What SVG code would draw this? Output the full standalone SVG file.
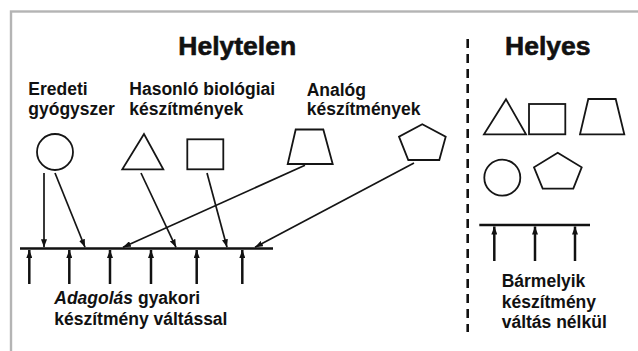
<svg xmlns="http://www.w3.org/2000/svg" width="638" height="351" viewBox="0 0 638 351">
  <style>
    .frame { fill: none; stroke: #b4b4b4; stroke-width: 2.4; }
    .shape { fill: #fff; stroke: #151515; stroke-width: 1.8; }
    .txt { font-family: "Liberation Sans", Arial, sans-serif; font-weight: bold; fill: #111; }
    .title { font-size: 26.5px; stroke: #111; stroke-width: 0.6; }
    .label { font-size: 17.5px; }
    .thin { stroke: #151515; stroke-width: 1.7; fill: none; }
    .thick { stroke: #111; stroke-width: 2.5; fill: none; }
    .bar { stroke: #111; stroke-width: 2.3; fill: none; }
    .divider { stroke: #111; stroke-width: 2.6; stroke-dasharray: 9 6; fill: none; }
  </style>
  <defs>
    <marker id="head" markerUnits="userSpaceOnUse" markerWidth="8" markerHeight="6" refX="8" refY="3" orient="auto">
      <path d="M0,0 L8,3 L0,6 z" fill="#111"/>
    </marker>
  </defs>

  <rect width="638" height="351" fill="#fff"/>
  <rect class="frame" x="11" y="11.5" width="640" height="350"/>

  <!-- section titles -->
  <g id="title-helytelen">
    <text class="txt title" x="178.3" y="55">Helytelen</text>
  </g>
  <g id="title-helyes">
    <text class="txt title" x="505" y="55">Helyes</text>
  </g>

  <!-- category labels -->
  <g id="label-eredeti">
    <text class="txt label" x="28.3" y="95">Eredeti</text>
    <text class="txt label" x="28.3" y="115">gyógyszer</text>
  </g>
  <g id="label-hasonlo">
    <text class="txt label" x="129.3" y="95">Hasonló biológiai</text>
    <text class="txt label" x="129.3" y="115">készítmények</text>
  </g>
  <g id="label-analog">
    <text class="txt label" x="306.7" y="95.5">Analóg</text>
    <text class="txt label" x="306.7" y="115">készítmények</text>
  </g>

  <!-- left-hand products -->
  <g id="left-circle"><circle class="shape" cx="55" cy="152" r="18"/></g>
  <g id="left-triangle"><polygon class="shape" points="144,134 122.3,169.3 163.3,169.3"/></g>
  <g id="left-square"><rect class="shape" x="187.3" y="139.3" width="36" height="30"/></g>
  <g id="left-trapezoid"><polygon class="shape" points="295.7,129.5 323.3,129.5 332.7,164 287.7,164"/></g>
  <g id="left-pentagon"><polygon class="shape" points="422.3,124.3 445.7,136.7 439.3,160 408.3,160 399,136.7"/></g>

  <!-- dosing timeline with frequent switching -->
  <g id="left-timeline">
    <line class="bar" x1="20" y1="248.5" x2="273" y2="248.5"/>
  </g>

  <!-- right-hand products -->
  <g id="right-triangle"><polygon class="shape" points="506,99.3 484,134.3 526,134.3"/></g>
  <g id="right-square"><rect class="shape" x="529" y="104" width="36.3" height="30.3"/></g>
  <g id="right-trapezoid"><polygon class="shape" points="588.3,99 615.7,99 624.3,134.3 580,134.3"/></g>
  <g id="right-circle"><circle class="shape" cx="502.3" cy="177.7" r="18"/></g>
  <g id="right-pentagon"><polygon class="shape" points="557.7,152.7 581.7,167.3 573.3,188.7 542.7,188.7 534,167.3"/></g>

  <!-- dosing timeline without switching -->
  <g id="right-timeline">
    <line class="bar" x1="479.3" y1="225" x2="590" y2="225"/>
  </g>

  <!-- divider between the two halves -->
  <g id="divider">
    <line class="divider" x1="467.7" y1="39" x2="467.7" y2="332"/>
  </g>

  <!-- connectors -->
  <g id="connectors">
    <!-- products feeding the left timeline -->
    <line class="thin" x1="44" y1="173" x2="44" y2="247.3" marker-end="url(#head)"/>
    <line class="thin" x1="55" y1="173" x2="85" y2="247.3" marker-end="url(#head)"/>
    <line class="thin" x1="141" y1="173" x2="176" y2="247.3" marker-end="url(#head)"/>
    <line class="thin" x1="207" y1="173" x2="227" y2="247.3" marker-end="url(#head)"/>
    <line class="thin" x1="305" y1="165.3" x2="123" y2="247.3" marker-end="url(#head)"/>
    <line class="thin" x1="414" y1="163" x2="255" y2="247.3" marker-end="url(#head)"/>
    <!-- administrations, left -->
    <line class="thick" x1="29.3" y1="284" x2="29.3" y2="250" marker-end="url(#head)"/>
    <line class="thick" x1="69.3" y1="284" x2="69.3" y2="250" marker-end="url(#head)"/>
    <line class="thick" x1="110" y1="284" x2="110" y2="250" marker-end="url(#head)"/>
    <line class="thick" x1="151" y1="284" x2="151" y2="250" marker-end="url(#head)"/>
    <line class="thick" x1="196.7" y1="284" x2="196.7" y2="250" marker-end="url(#head)"/>
    <line class="thick" x1="242.3" y1="284" x2="242.3" y2="250" marker-end="url(#head)"/>
    <!-- administrations, right -->
    <line class="thick" x1="494.3" y1="261" x2="494.3" y2="226.5" marker-end="url(#head)"/>
    <line class="thick" x1="535" y1="261" x2="535" y2="226.5" marker-end="url(#head)"/>
    <line class="thick" x1="575" y1="261" x2="575" y2="226.5" marker-end="url(#head)"/>
  </g>

  <!-- captions -->
  <g id="caption-left">
    <text class="txt label" x="54.3" y="304"><tspan font-style="italic">Adagolás</tspan> gyakori</text>
    <text class="txt label" x="54.3" y="325">készítmény váltással</text>
  </g>
  <g id="caption-right">
    <text class="txt label" x="501.7" y="287.3">Bármelyik</text>
    <text class="txt label" x="501.7" y="307.8">készítmény</text>
    <text class="txt label" x="501.7" y="328.3">váltás nélkül</text>
  </g>
</svg>
